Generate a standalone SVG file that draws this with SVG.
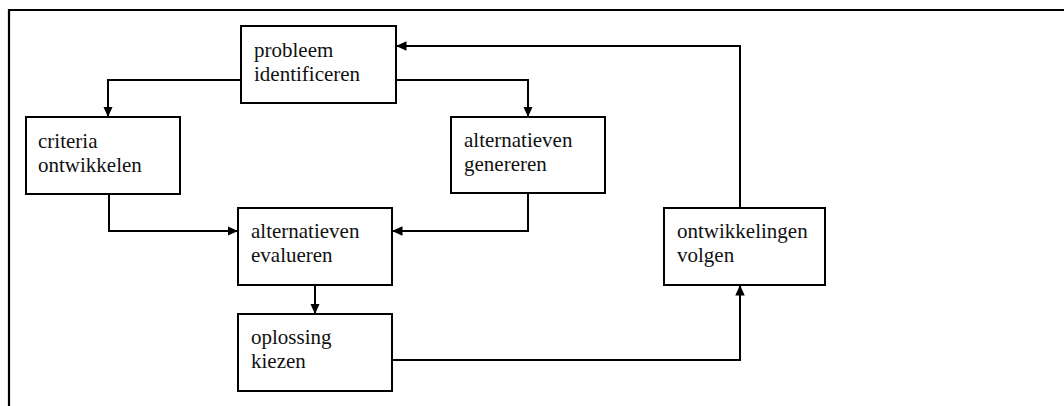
<svg xmlns="http://www.w3.org/2000/svg" width="1064" height="406" viewBox="0 0 1064 406">
<style>
.box{fill:#fff;stroke:#000;stroke-width:2}
.t{font-family:"Liberation Serif","Times New Roman",serif;font-size:21px;fill:#111}
.c{fill:none;stroke:#000;stroke-width:2}
</style>
<defs>
<marker id="ah" markerUnits="userSpaceOnUse" markerWidth="11" markerHeight="10" refX="10.5" refY="4.75" orient="auto">
<path d="M0,0 L10.5,4.75 L0,9.5 z" fill="#000"/>
</marker>
</defs>
<rect width="1064" height="406" fill="#fff"/>
<path d="M9,406 V10 H1064" fill="none" stroke="#000" stroke-width="2.2"/>
<g id="connectors">
<path class="c" d="M241,80 H108 V117" marker-end="url(#ah)"/>
<path class="c" d="M396,80 H528 V117" marker-end="url(#ah)"/>
<path class="c" d="M740,208 V46 H396" marker-end="url(#ah)"/>
<path class="c" d="M109,194 V231 H238" marker-end="url(#ah)"/>
<path class="c" d="M528,193 V231 H392" marker-end="url(#ah)"/>
<path class="c" d="M315,285 V314" marker-end="url(#ah)"/>
<path class="c" d="M391,360 H740 V285" marker-end="url(#ah)"/>
</g>
<g id="probleem">
<rect class="box" x="241" y="26" width="155" height="77"/>
<text class="t" x="254" y="57">probleem</text>
<text class="t" x="254" y="81">identificeren</text>
</g>
<g id="criteria">
<rect class="box" x="26" y="117" width="154" height="77"/>
<text class="t" x="38" y="148">criteria</text>
<text class="t" x="38" y="172">ontwikkelen</text>
</g>
<g id="genereren">
<rect class="box" x="451" y="117" width="154" height="76"/>
<text class="t" x="464" y="147">alternatieven</text>
<text class="t" x="464" y="171">genereren</text>
</g>
<g id="evalueren">
<rect class="box" x="238" y="208" width="154" height="77"/>
<text class="t" x="251" y="238">alternatieven</text>
<text class="t" x="251" y="262">evalueren</text>
</g>
<g id="oplossing">
<rect class="box" x="238" y="314" width="154" height="77"/>
<text class="t" x="251" y="344">oplossing</text>
<text class="t" x="251" y="368">kiezen</text>
</g>
<g id="ontwikkelingen">
<rect class="box" x="664" y="208" width="161" height="77"/>
<text class="t" x="677" y="238">ontwikkelingen</text>
<text class="t" x="677" y="262">volgen</text>
</g>
</svg>
